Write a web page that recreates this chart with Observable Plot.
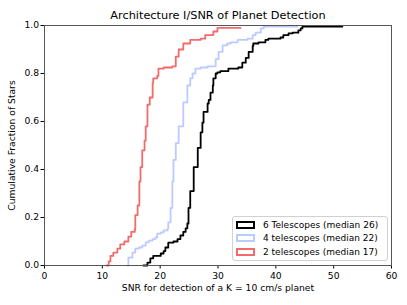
<!DOCTYPE html>
<html><head><meta charset="utf-8">
<script src="https://cdn.jsdelivr.net/npm/d3@7"></script>
<script src="https://cdn.jsdelivr.net/npm/@observablehq/plot@0.6"></script>
<style>
body{margin:0;background:#fff;}
#wrap{position:relative;width:407px;height:305px;font-family:"DejaVu Sans",sans-serif;}
#legend{position:absolute;left:232px;top:216px;width:156px;height:45px;border:1px solid #d0d0d0;border-radius:3px;background:rgba(255,255,255,0.85);box-sizing:border-box;padding:1px 0 0 3px;font-size:9px;color:#000;}
#legend .row{height:13.5px;display:flex;align-items:center;white-space:nowrap;}
#legend .sw{display:inline-block;width:15px;height:4px;border:2px solid;margin-right:8px;}
</style></head><body><div id="wrap"></div>
<script>
const title = "Architecture I/SNR of Planet Detection";
const xLabel = "SNR for detection of a K = 10 cm/s planet";
const yLabel = "Cumulative Fraction of Stars";
const xTicks = [0, 10, 20, 30, 40, 50, 60];
const yTicks = [0, 0.2, 0.4, 0.6, 0.8, 1.0];
const seriesNames = ["6 Telescopes (median 26)", "4 telescopes (median 22)", "2 telescopes (median 17)"];
const seriesColors = ["#000000", "#bccbff", "#f26b6b"];

const sixSNR  = [17.1,17.8,18.3,18.8,20.1,20.6,20.9,21.4,22.3,23.0,23.5,24.0,24.4,24.7,24.9,25.2,25.8,26.5,27.0,27.3,27.5,28.2,28.4,28.7,29.1,29.2,29.6,29.9,30.4,31.8,33.5,34.2,34.8,35.3,36.0,36.1,37.0,38.2,38.7,40.8,41.3,42.2,42.9,43.9,44.3,44.6,51.5];
const sixFrac = [0,0.012,0.03,0.04,0.05,0.06,0.075,0.095,0.10,0.11,0.125,0.14,0.155,0.175,0.24,0.31,0.41,0.49,0.555,0.595,0.64,0.675,0.69,0.72,0.75,0.78,0.80,0.805,0.81,0.82,0.825,0.845,0.865,0.89,0.915,0.925,0.93,0.94,0.945,0.95,0.96,0.967,0.97,0.98,0.988,0.995,0.995];

const fourSNR  = [14.4,14.5,15.2,15.7,16.3,16.9,17.5,18.0,18.7,19.2,19.5,20.1,20.6,21.3,21.4,21.8,22.1,22.3,22.7,23.2,24.0,24.7,25.2,25.6,26.1,27.0,28.2,29.1,29.6,30.1,30.8,31.6,32.2,33.4,35.1,36.0,36.5,37.4,37.9,43.7];
const fourFrac = [0,0.033,0.054,0.07,0.075,0.083,0.096,0.104,0.11,0.117,0.133,0.138,0.146,0.154,0.18,0.24,0.35,0.44,0.51,0.58,0.68,0.75,0.78,0.80,0.82,0.825,0.83,0.83,0.86,0.89,0.917,0.925,0.93,0.94,0.945,0.96,0.97,0.988,0.995,0.995];

const twoSNR  = [10.7,11.1,11.4,11.9,12.6,13.1,13.8,14.5,15.0,15.6,15.7,16.1,16.4,16.6,16.9,17.3,17.5,17.8,18.2,18.7,18.8,19.5,19.7,20.6,22.1,22.7,23.2,24.0,25.2,27.0,27.8,29.2,29.9,33.9];
const twoFrac = [0,0.017,0.04,0.054,0.07,0.088,0.10,0.12,0.14,0.15,0.21,0.25,0.35,0.41,0.48,0.52,0.58,0.67,0.70,0.76,0.78,0.79,0.82,0.825,0.83,0.87,0.90,0.925,0.94,0.945,0.96,0.975,0.99,0.99];

const rows = [];
[[sixSNR, sixFrac, 0], [fourSNR, fourFrac, 1], [twoSNR, twoFrac, 2]].forEach(([xs, ys, k]) => {
  xs.forEach((x, i) => rows.push({series: seriesNames[k], x, y: ys[i]}));
});

const font = "DejaVu Sans";
const chart = Plot.plot({
  width: 407, height: 305,
  marginLeft: 44, marginRight: 16, marginTop: 25, marginBottom: 40,
  style: {fontFamily: font, fontSize: "9.2px", color: "#000", background: "#fff"},
  x: {domain: [0, 60], ticks: xTicks, label: null},
  y: {domain: [0, 1], ticks: yTicks, tickFormat: d3.format(".1f"), label: null},
  color: {domain: seriesNames, range: seriesColors},
  marks: [
    Plot.axisX({ticks: xTicks, tickSize: 3.5, tickPadding: 3, label: null, stroke: "#000"}),
    Plot.axisY({ticks: yTicks, tickSize: 3.5, tickPadding: 2, tickFormat: d3.format(".1f"), label: null, stroke: "#000"}),
    Plot.line(rows.filter(d => d.series === seriesNames[1]), {x: "x", y: "y", stroke: "series", curve: "step-after", strokeWidth: 1.8}),
    Plot.line(rows.filter(d => d.series === seriesNames[2]), {x: "x", y: "y", stroke: "series", curve: "step-after", strokeWidth: 1.8}),
    Plot.line(rows.filter(d => d.series === seriesNames[0]), {x: "x", y: "y", stroke: "series", curve: "step-after", strokeWidth: 1.8}),
    Plot.frame({stroke: "#555", strokeWidth: 1}),
    Plot.text([title], {frameAnchor: "top", dy: -15, fontSize: 11.3, fill: "#000"}),
    Plot.text([xLabel], {frameAnchor: "bottom", dy: 25, fontSize: 9.2, fill: "#000"}),
    Plot.text([yLabel], {frameAnchor: "left", textAnchor: "middle", dx: -32, rotate: -90, fontSize: 9.2, fill: "#000"})
  ]
});
const wrap = document.getElementById("wrap");
wrap.appendChild(chart);

const legend = document.createElement("div");
legend.id = "legend";
seriesNames.forEach((name, i) => {
  const r = document.createElement("div");
  r.className = "row";
  const sw = document.createElement("span");
  sw.className = "sw";
  sw.style.borderColor = seriesColors[i];
  r.appendChild(sw);
  r.appendChild(document.createTextNode(name));
  legend.appendChild(r);
});
wrap.appendChild(legend);
</script></body></html>
